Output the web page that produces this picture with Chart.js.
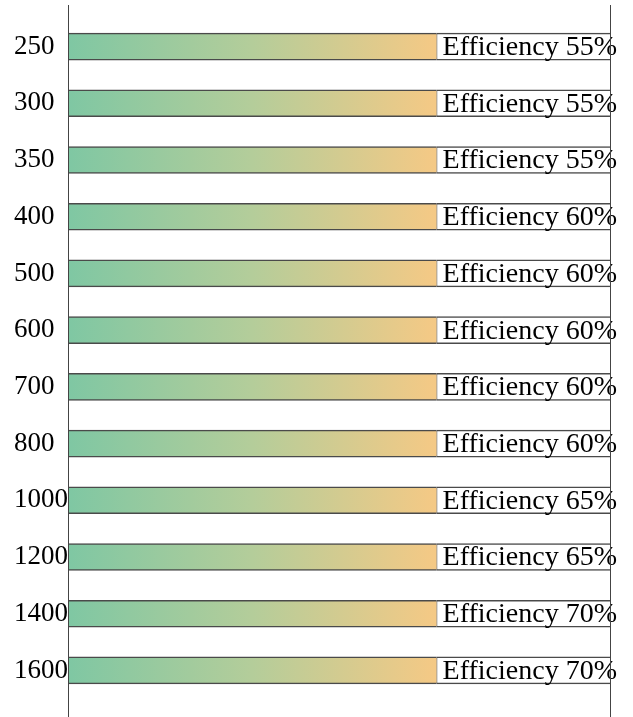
<!DOCTYPE html>
<html>
<head>
<meta charset="utf-8">
<script src="https://cdn.jsdelivr.net/npm/chart.js@4/dist/chart.umd.min.js"></script>
<style>
  body { margin: 0; background: #fff; }
  canvas { display: block; }
</style>
</head>
<body>
<canvas id="eff_chart" width="633" height="717"></canvas>
<script>
// chart data
var wattages = ['250', '300', '350', '400', '500', '600', '700', '800', '1000', '1200', '1400', '1600'];
var efficiency = [55, 55, 55, 60, 60, 60, 60, 60, 65, 65, 70, 70];
var barLength = [68, 68, 68, 68, 68, 68, 68, 68, 68, 68, 68, 68];
var boxLength = [32, 32, 32, 32, 32, 32, 32, 32, 32, 32, 32, 32];

// gradient fill across the bar part
function barGradient(context) {
    var chart = context.chart;
    var area = chart.chartArea;
    if (!area) return '#9fcb9c';
    var x = chart.scales.x;
    var g = chart.ctx.createLinearGradient(x.getPixelForValue(0), 0, x.getPixelForValue(68), 0);
    g.addColorStop(0, '#7fc7a3');
    g.addColorStop(0.5, '#b4cd9a');
    g.addColorStop(1, '#f5c985');
    return g;
}

// efficiency text inside the white boxes
var boxLabels = {
    id: 'boxLabels',
    afterDatasetsDraw: function(chart) {
        var ctx = chart.ctx;
        var meta = chart.getDatasetMeta(1);
        ctx.save();
        ctx.font = '28px "Liberation Serif", "Times New Roman", serif';
        ctx.fillStyle = '#000';
        ctx.textAlign = 'left';
        ctx.textBaseline = 'middle';
        meta.data.forEach(function(bar, i) {
            ctx.fillText('Efficiency ' + efficiency[i] + '%', bar.base + 6, bar.y + 1);
        });
        ctx.restore();
    }
};

// left and right frame lines
var frameLines = {
    id: 'frameLines',
    afterDraw: function(chart) {
        var ctx = chart.ctx;
        var a = chart.chartArea;
        ctx.save();
        ctx.strokeStyle = '#444';
        ctx.lineWidth = 1;
        ctx.beginPath();
        ctx.moveTo(Math.round(a.left) + 0.5, 5);
        ctx.lineTo(Math.round(a.left) + 0.5, 717);
        ctx.moveTo(Math.round(a.right) + 0.5, 5);
        ctx.lineTo(Math.round(a.right) + 0.5, 717);
        ctx.stroke();
        ctx.restore();
    }
};

var ctx = document.getElementById('eff_chart').getContext('2d');
var effChart = new Chart(ctx, {
    type: 'bar',
    data: {
        labels: wattages,
        datasets: [
            {
                label: 'bar',
                data: barLength,
                backgroundColor: barGradient,
                borderColor: '#4a4a4a',
                borderWidth: {top: 1.5, bottom: 1.5, left: 0, right: 0},
                borderSkipped: false,
                barThickness: 27
            },
            {
                label: 'box',
                data: boxLength,
                backgroundColor: '#ffffff',
                borderColor: '#4a4a4a',
                borderWidth: {top: 1.5, bottom: 1.5, left: 1, right: 0},
                borderSkipped: false,
                barThickness: 27
            }
        ]
    },
    options: {
        indexAxis: 'y',
        responsive: false,
        animation: false,
        layout: {
            padding: {left: 14, right: 23, top: 18, bottom: 17}
        },
        scales: {
            x: {
                stacked: true,
                display: false,
                min: 0,
                max: 100
            },
            y: {
                stacked: true,
                grid: {display: false},
                border: {display: false},
                afterFit: function(scale) { scale.width = 54; },
                ticks: {
                    crossAlign: 'far',
                    padding: 2,
                    color: '#000',
                    font: {family: '"Liberation Serif", "Times New Roman", serif', size: 27}
                }
            }
        },
        plugins: {
            legend: {display: false},
            tooltip: {enabled: false}
        }
    },
    plugins: [boxLabels, frameLines]
});
</script>
</body>
</html>
